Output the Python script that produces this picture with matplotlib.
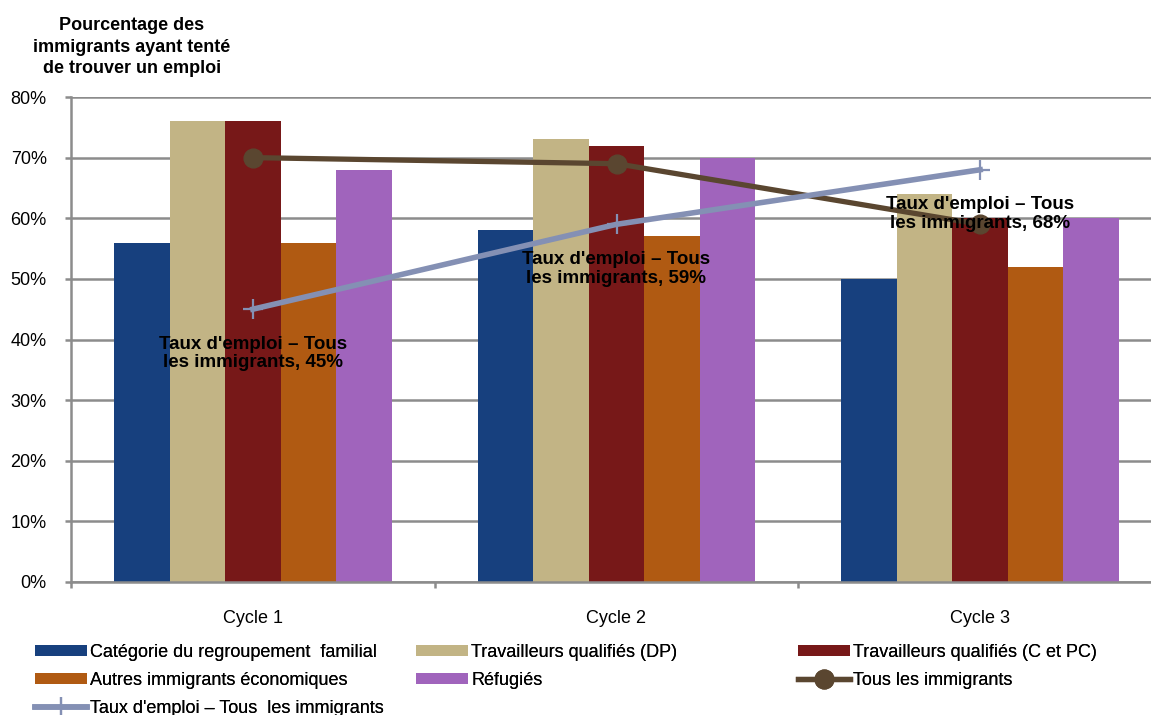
import numpy as np
import matplotlib.pyplot as plt
from matplotlib.ticker import FixedLocator

plt.rcParams['font.family'] = ['Liberation Sans', 'DejaVu Sans']

cycles = ['Cycle 1', 'Cycle 2', 'Cycle 3']
series = ['Catégorie du regroupement  familial', 'Travailleurs qualifiés (DP)',
          'Travailleurs qualifiés (C et PC)', 'Autres immigrants économiques', 'Réfugiés']
values = [
    [56, 58, 50],
    [76, 73, 64],
    [76, 72, 60],
    [56, 57, 52],
    [68, 70, 60],
]
colors = ['#17407e', '#c2b485', '#771818', '#b05a12', '#a064bc']

tous = [70, 69, 59]
taux = [45, 59, 68]

fig = plt.figure(figsize=(11.51, 7.15), dpi=100)
W, H = 1151, 715
ax = fig.add_axes([71 / W, (H - 582) / H, (1162 - 71) / W, (582 - 97) / H])

x = np.arange(len(cycles))
bw = 0.1527
bars = []
for i, (name, vals, c) in enumerate(zip(series, values, colors)):
    bars.append(ax.bar(x + (i - 2) * bw, vals, bw, color=c, label=name, zorder=2))

l_tous, = ax.plot(x, tous, color='#5a4630', lw=3.8, marker='o', ms=13.5, zorder=4,
                  label='Tous les immigrants')
l_taux, = ax.plot(x, taux, color='#8490b4', lw=4, marker='+', ms=14, mew=1.6, zorder=4,
                  label="Taux d'emploi – Tous  les immigrants")

for xi, v in zip(x, taux):
    ax.annotate("Taux d'emploi – Tous\nles immigrants, %d%%" % v, (xi, v),
                xytext=(0, -32), textcoords='offset points', ha='center', va='center',
                fontsize=13.5, fontweight='bold', color='black', zorder=5,
                linespacing=1.12)

ax.set_xlim(-0.5, 2.5)
ax.set_ylim(0, 80)
ax.set_yticks(range(0, 81, 10))
ax.set_yticklabels(['%d%%' % v for v in range(0, 81, 10)], fontsize=13)
ax.yaxis.grid(True, color='#8c8c8c', lw=1.8, zorder=1)
ax.set_axisbelow(True)

ax.set_xticks(x)
ax.set_xticklabels(cycles, fontsize=13)
ax.tick_params(axis='x', length=0, pad=20)
ax.xaxis.set_minor_locator(FixedLocator([-0.5, 0.5, 1.5]))
ax.tick_params(axis='x', which='minor', length=4.5, color='#8c8c8c', width=1.8)
ax.tick_params(axis='y', length=4.5, color='#8c8c8c', width=1.8, pad=13)

for s in ['top', 'right']:
    ax.spines[s].set_visible(False)
for s in ['left', 'bottom']:
    ax.spines[s].set_color('#8c8c8c')
    ax.spines[s].set_linewidth(1.8)

fig.text(132 / W, 1 - 47 / H, 'Pourcentage des\nimmigrants ayant tenté\nde trouver un emploi',
         ha='center', va='center', fontsize=13, fontweight='bold', linespacing=1.32)

# legend laid out in three fixed-width columns
columns = [
    (35, [(bars[0], series[0]), (bars[3], series[3]), (l_taux, l_taux.get_label())]),
    (416, [(bars[1], series[1]), (bars[4], series[4])]),
    (798, [(bars[2], series[2]), (l_tous, l_tous.get_label())]),
]
for x0, items in columns:
    leg = fig.legend([it[0] for it in items], [it[1] for it in items],
                     loc='upper left', bbox_to_anchor=(x0 / W, 1 - 644 / H),
                     frameon=False, fontsize=13, handlelength=2.9, handleheight=0.5,
                     handletextpad=0.15, labelspacing=0.6,
                     borderaxespad=0, borderpad=0)
    fig.add_artist(leg)

fig.savefig('out.png', dpi=100)
